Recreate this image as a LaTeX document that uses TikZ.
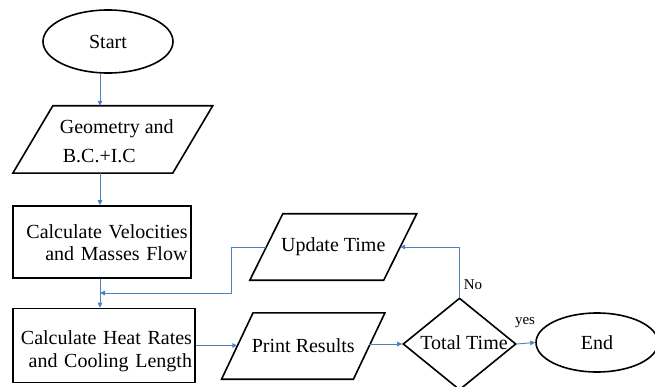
\documentclass[tikz,border=0pt]{standalone}
\usepackage{fontspec}
\setmainfont{Liberation Serif}
\usetikzlibrary{shapes.geometric,arrows.meta}
\definecolor{conn}{RGB}{79,129,189}
\newcommand\paradraw[2]{%
  \draw[paraline] ([xshift=-#2]#1.south west) -- ([xshift=-#2]#1.south east)
    -- ([xshift=#2]#1.north east) -- ([xshift=#2]#1.north west) -- cycle;}
\begin{document}
\begin{tikzpicture}[x=1pt,y=-1pt,
  base/.style={draw=black,line width=1.6pt,font=\fontsize{20}{22}\selectfont,inner sep=0pt},
  term/.style={base,ellipse},
  proc/.style={base,rectangle},
  io/.style={font=\fontsize{20}{22}\selectfont,inner sep=0pt,rectangle},
  paraline/.style={draw=black,line width=1.6pt,line join=miter},
  dec/.style={base,diamond},
  txt/.style={font=\fontsize{20}{22}\selectfont,inner sep=0pt},
  arr/.style={draw=conn,line width=0.9pt,-{Triangle[length=5pt,width=4.5pt]}},
  lab/.style={font=\fontsize{15}{17}\selectfont,inner sep=0pt}
]
\useasboundingbox (0,0) rectangle (655,387);
\clip (0,0) rectangle (655,387);

\node[term,minimum width=130pt,minimum height=63pt] (start) at (108,41.5) {Start};
\node[io,minimum width=159.5pt,minimum height=67pt] (geo) at (112.75,139.5) {};
\paradraw{geo}{20pt}
\node[txt,align=left] (geotext) at ([xshift=4pt,yshift=-2pt]geo.center) {Geometry and\\[7pt]\hspace*{3pt}B.C.+I.C};
\node[proc,minimum width=178pt,minimum height=72pt] (vel) at (102,242) {};
\node[txt,text width=171pt,align=right] (veltext) at ([yshift=-1pt]vel.center) {Calculate Velocities\\and Masses Flow};
\node[proc,minimum width=182pt,minimum height=74pt] (heat) at (104,345.5) {};
\node[txt,text width=176pt,align=right] (heattext) at ([yshift=-6pt]heat.center) {Calculate Heat Rates\\[1pt]and Cooling Length};
\node[io,minimum width=133.5pt,minimum height=66pt] (ut) at (333.25,247) {Update Time};
\paradraw{ut}{16.5pt}
\node[io,minimum width=131.5pt,minimum height=66pt] (pr) at (303.25,346) {Print Results};
\paradraw{pr}{15.75pt}
\node[dec,minimum width=113pt,minimum height=92pt] (tt) at (459.5,344) {};
\node[txt] (ttlabel) at (464,343) {Total Time};
\node[term,minimum width=122pt,minimum height=59pt] (fin) at (597,342.5) {End};

\coordinate (col) at (100,0);
\coordinate (join) at (100,293);
\draw[arr] (start.south -| col) -- (geo.north -| col);
\draw[arr] (geo.south -| col) -- (vel.north -| col);
\draw[arr] (vel.south -| col) -- (heat.north -| col);
\draw[arr] (heat.east) -- (heat.east -| pr.west);
\draw[arr] (pr.east |- tt.west) -- (tt.west);
\draw[arr] (tt.east) -- (fin.west);
\draw[arr] (tt.north) |- (ut.east);
\draw[arr] (ut.west) -- ++(-34.5,0) |- (join);

\node[lab] (no) at (473,285) {No};
\node[lab] (yes) at (525,323) {yes};
\end{tikzpicture}
\end{document}
